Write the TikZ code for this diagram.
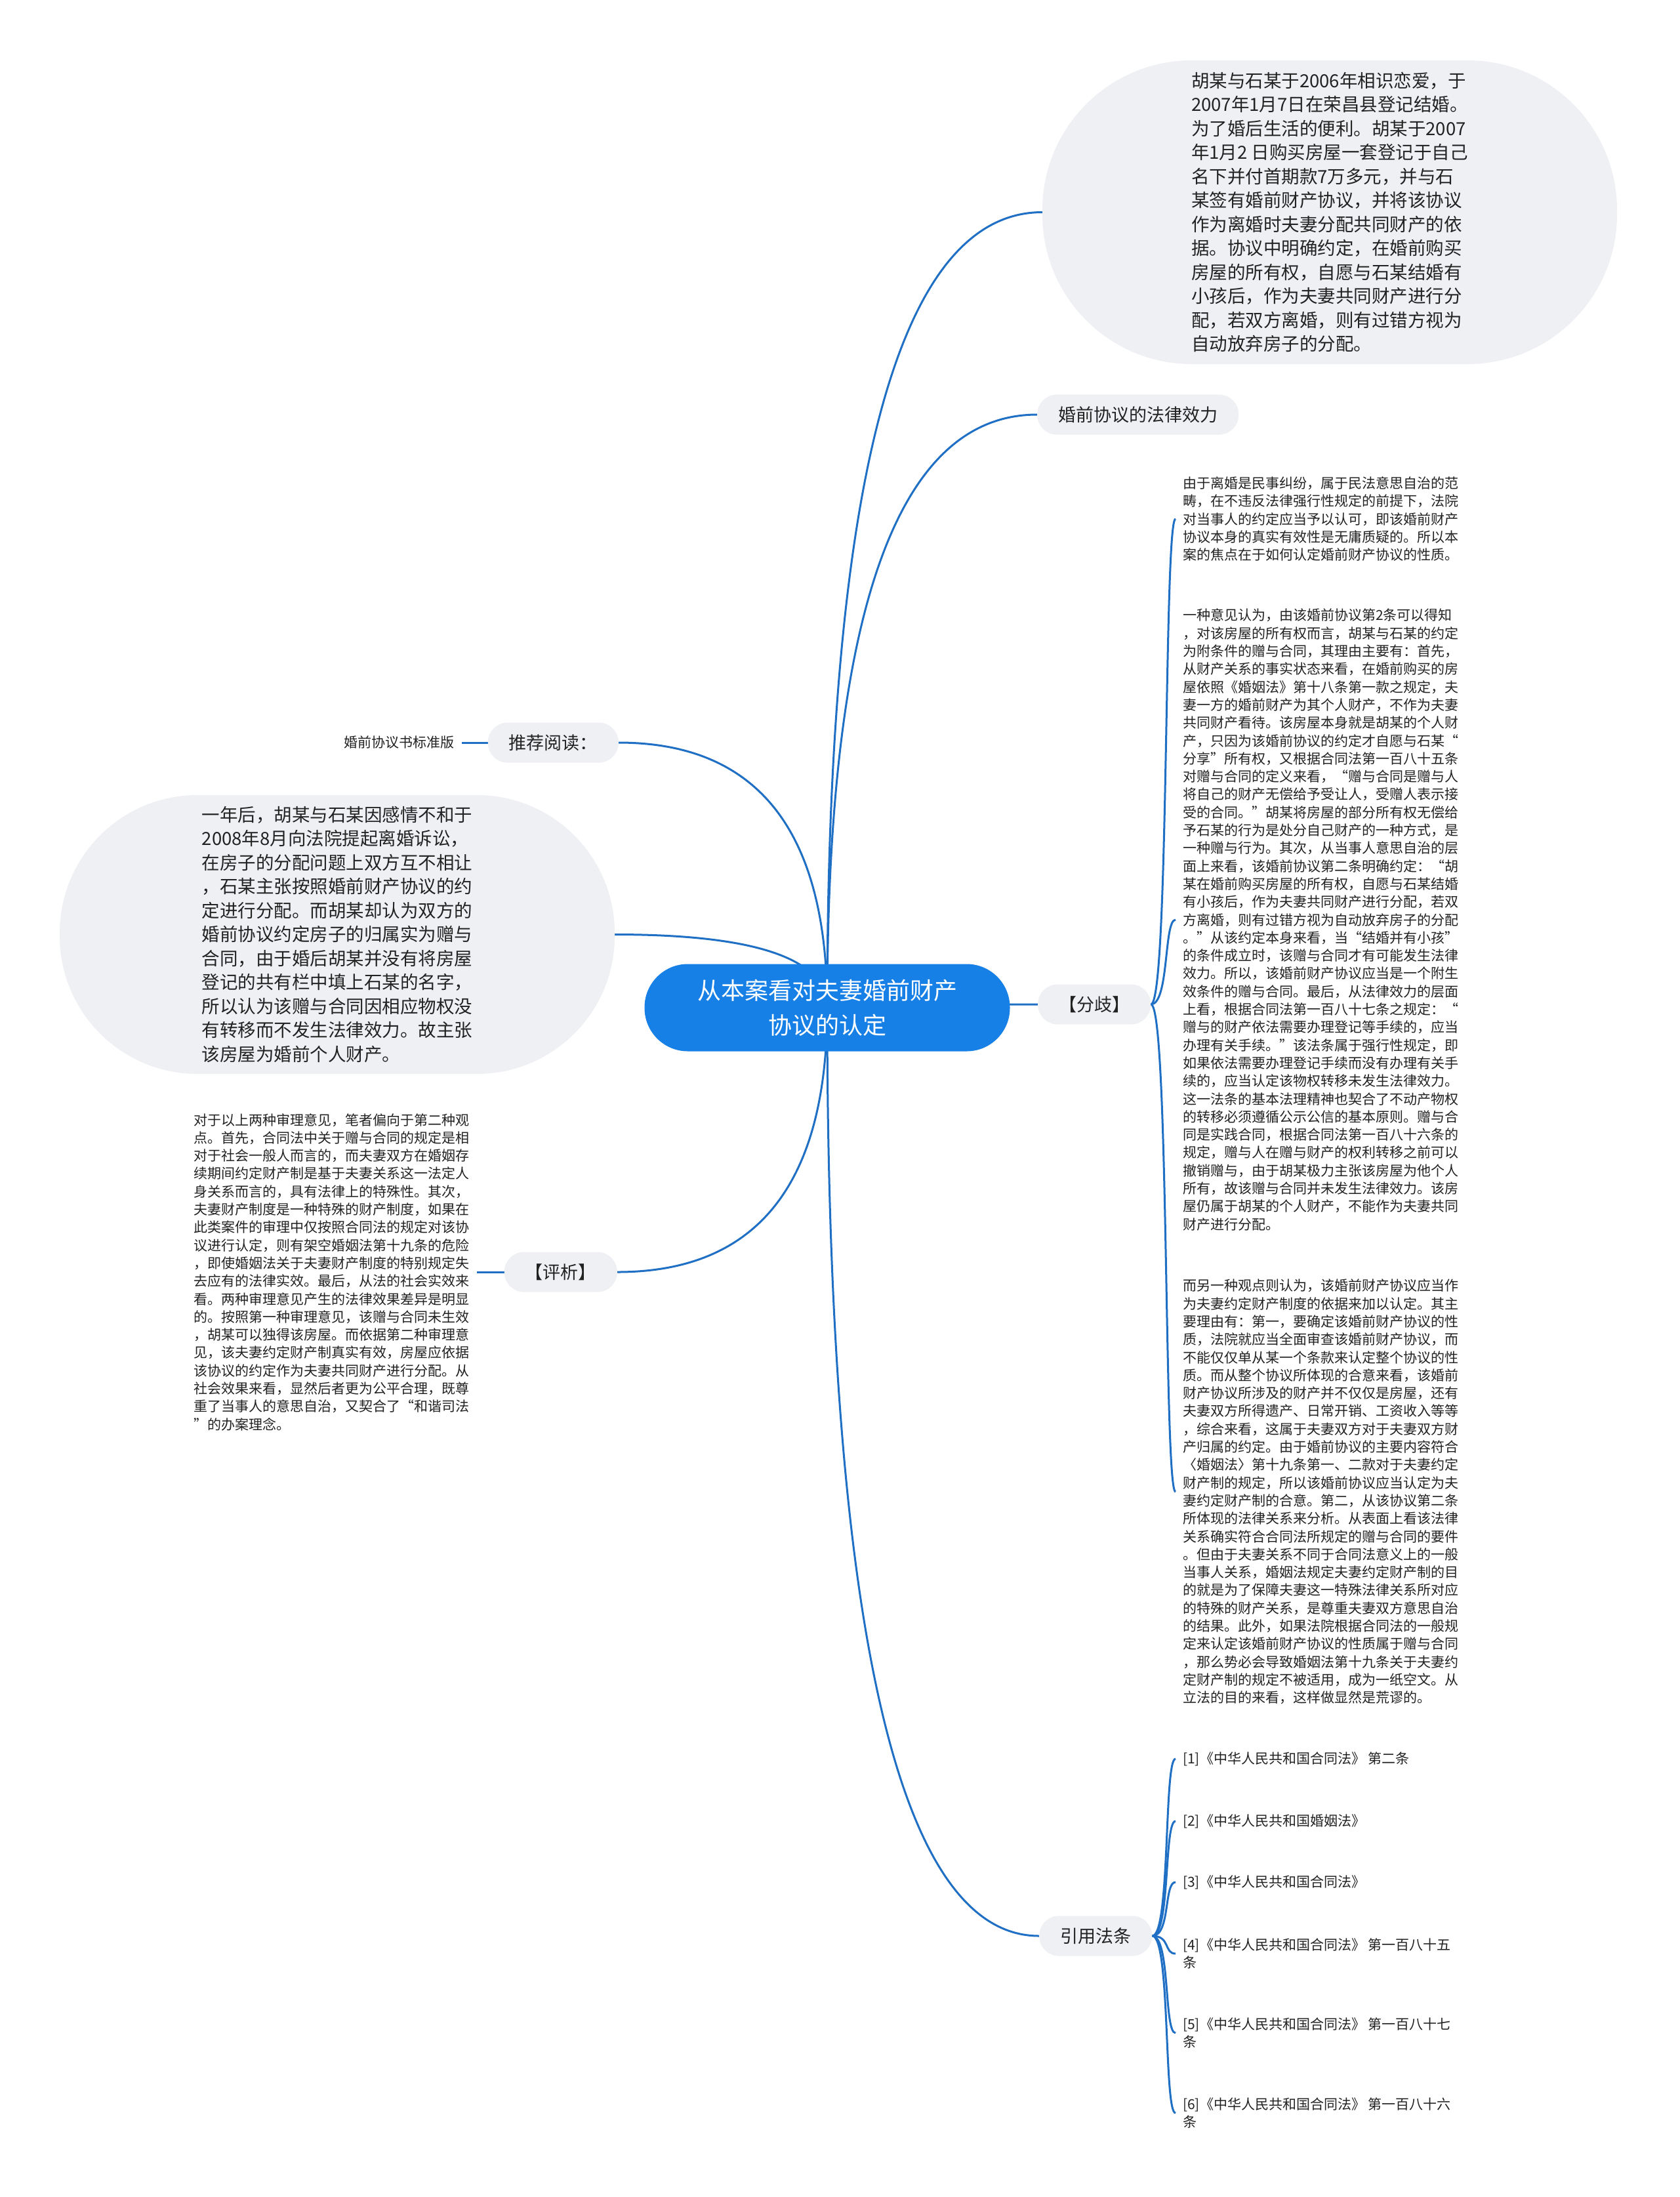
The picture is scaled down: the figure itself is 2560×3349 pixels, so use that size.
\documentclass[tikz,border=0pt]{standalone}
\usepackage{fontspec}
\setmainfont{Noto Sans CJK SC}
\usetikzlibrary{positioning, calc, backgrounds}

\definecolor{rootblue}{RGB}{23,128,231}
\definecolor{linkblue}{RGB}{31,111,196}
\definecolor{bubblegray}{RGB}{238,240,244}
\definecolor{textdark}{RGB}{34,34,34}

% curve from the centre of the root to a branch anchor
\newcommand{\rootlink}[1]{%
  \draw[link] (root.center) .. controls ($(root.center)!0.667!(root.center |- #1)$)
    and ($(#1)!0.667!(root.center |- #1)$) .. (#1);}

\begin{document}
\begin{tikzpicture}[
    x=1pt, y=-1pt,
    root/.style={
        fill=rootblue,
        text=white,
        rounded corners=66pt,
        minimum width=557pt,
        minimum height=133pt,
        align=center,
        font=\fontsize{36pt}{53pt}\selectfont
    },
    topic/.style={
        fill=bubblegray,
        text=textdark,
        rounded corners=30pt,
        minimum height=61pt,
        inner xsep=32pt,
        font=\fontsize{27pt}{32pt}\selectfont
    },
    story/.style={
        fill=bubblegray,
        text=textdark,
        align=left,
        font=\fontsize{27.5pt}{36.5pt}\selectfont
    },
    detail/.style={
        text=textdark,
        align=left,
        inner xsep=11pt,
        inner ysep=0pt,
        font=\fontsize{21pt}{27.3pt}\selectfont
    },
    link/.style={
        draw=linkblue,
        line width=3pt
    }
]
    \useasboundingbox (0,0) rectangle (2560,3349);

    % -- Root --
    \node[root] (root) at (1261,1536) {从本案看对夫妻婚前财产\\协议的认定};

    % -- Right side: facts and effect --
    \node[story, rounded corners=228pt, minimum width=876pt, minimum height=463pt] (facts) at (2027,323.5) {胡某与石某于2006年相识恋爱，于\\
2007年1月7日在荣昌县登记结婚。\\
为了婚后生活的便利。胡某于2007\\
年1月2 日购买房屋一套登记于自己\\
名下并付首期款7万多元，并与石\\
某签有婚前财产协议，并将该协议\\
作为离婚时夫妻分配共同财产的依\\
据。协议中明确约定，在婚前购买\\
房屋的所有权，自愿与石某结婚有\\
小孩后，作为夫妻共同财产进行分\\
配，若双方离婚，则有过错方视为\\
自动放弃房子的分配。};

    \node[topic, anchor=west] (effect) at (1581,632) {婚前协议的法律效力};

    % -- Left side: reading and divorce --
    \node[topic, anchor=east] (reading) at (943,1132) {推荐阅读：};
    \node[detail, left=40pt of reading] (template) {婚前协议书标准版};

    \node[story, rounded corners=210pt, minimum width=846pt, minimum height=425pt] (divorce) at (514,1424.5) {一年后，胡某与石某因感情不和于\\
2008年8月向法院提起离婚诉讼，\\
在房子的分配问题上双方互不相让\\
，石某主张按照婚前财产协议的约\\
定进行分配。而胡某却认为双方的\\
婚前协议约定房子的归属实为赠与\\
合同，由于婚后胡某并没有将房屋\\
登记的共有栏中填上石某的名字，\\
所以认为该赠与合同因相应物权没\\
有转移而不发生法律效力。故主张\\
该房屋为婚前个人财产。};

    % -- Comment --
    \node[topic, anchor=east] (comment) at (941,1939) {【评析】};
    \node[detail, left=42pt of comment] (commenttext) {对于以上两种审理意见，笔者偏向于第二种观\\
点。首先，合同法中关于赠与合同的规定是相\\
对于社会一般人而言的，而夫妻双方在婚姻存\\
续期间约定财产制是基于夫妻关系这一法定人\\
身关系而言的，具有法律上的特殊性。其次，\\
夫妻财产制度是一种特殊的财产制度，如果在\\
此类案件的审理中仅按照合同法的规定对该协\\
议进行认定，则有架空婚姻法第十九条的危险\\
，即使婚姻法关于夫妻财产制度的特别规定失\\
去应有的法律实效。最后，从法的社会实效来\\
看。两种审理意见产生的法律效果差异是明显\\
的。按照第一种审理意见，该赠与合同未生效\\
，胡某可以独得该房屋。而依据第二种审理意\\
见，该夫妻约定财产制真实有效，房屋应依据\\
该协议的约定作为夫妻共同财产进行分配。从\\
社会效果来看，显然后者更为公平合理，既尊\\
重了当事人的意思自治，又契合了“和谐司法\\
”的办案理念。};

    % -- Dispute --
    \node[topic, anchor=west] (dispute) at (1582,1531) {【分歧】};

    \node[detail, anchor=west] (view0) at (1792,791) {由于离婚是民事纠纷，属于民法意思自治的范\\
畴，在不违反法律强行性规定的前提下，法院\\
对当事人的约定应当予以认可，即该婚前财产\\
协议本身的真实有效性是无庸质疑的。所以本\\
案的焦点在于如何认定婚前财产协议的性质。};

    \node[detail, anchor=west] (view1) at (1792,1402) {一种意见认为，由该婚前协议第2条可以得知\\
，对该房屋的所有权而言，胡某与石某的约定\\
为附条件的赠与合同，其理由主要有：首先，\\
从财产关系的事实状态来看，在婚前购买的房\\
屋依照《婚姻法》第十八条第一款之规定，夫\\
妻一方的婚前财产为其个人财产，不作为夫妻\\
共同财产看待。该房屋本身就是胡某的个人财\\
产，只因为该婚前协议的约定才自愿与石某“\\
分享”所有权，又根据合同法第一百八十五条\\
对赠与合同的定义来看，“赠与合同是赠与人\\
将自己的财产无偿给予受让人，受赠人表示接\\
受的合同。”胡某将房屋的部分所有权无偿给\\
予石某的行为是处分自己财产的一种方式，是\\
一种赠与行为。其次，从当事人意思自治的层\\
面上来看，该婚前协议第二条明确约定：“胡\\
某在婚前购买房屋的所有权，自愿与石某结婚\\
有小孩后，作为夫妻共同财产进行分配，若双\\
方离婚，则有过错方视为自动放弃房子的分配\\
。”从该约定本身来看，当“结婚并有小孩”\\
的条件成立时，该赠与合同才有可能发生法律\\
效力。所以，该婚前财产协议应当是一个附生\\
效条件的赠与合同。最后，从法律效力的层面\\
上看，根据合同法第一百八十七条之规定：“\\
赠与的财产依法需要办理登记等手续的，应当\\
办理有关手续。”该法条属于强行性规定，即\\
如果依法需要办理登记手续而没有办理有关手\\
续的，应当认定该物权转移未发生法律效力。\\
这一法条的基本法理精神也契合了不动产物权\\
的转移必须遵循公示公信的基本原则。赠与合\\
同是实践合同，根据合同法第一百八十六条的\\
规定，赠与人在赠与财产的权利转移之前可以\\
撤销赠与，由于胡某极力主张该房屋为他个人\\
所有，故该赠与合同并未发生法律效力。该房\\
屋仍属于胡某的个人财产，不能作为夫妻共同\\
财产进行分配。};

    \node[detail, anchor=west] (view2) at (1792,2274) {而另一种观点则认为，该婚前财产协议应当作\\
为夫妻约定财产制度的依据来加以认定。其主\\
要理由有：第一，要确定该婚前财产协议的性\\
质，法院就应当全面审查该婚前财产协议，而\\
不能仅仅单从某一个条款来认定整个协议的性\\
质。而从整个协议所体现的合意来看，该婚前\\
财产协议所涉及的财产并不仅仅是房屋，还有\\
夫妻双方所得遗产、日常开销、工资收入等等\\
，综合来看，这属于夫妻双方对于夫妻双方财\\
产归属的约定。由于婚前协议的主要内容符合\\
〈婚姻法〉第十九条第一、二款对于夫妻约定\\
财产制的规定，所以该婚前协议应当认定为夫\\
妻约定财产制的合意。第二，从该协议第二条\\
所体现的法律关系来分析。从表面上看该法律\\
关系确实符合合同法所规定的赠与合同的要件\\
。但由于夫妻关系不同于合同法意义上的一般\\
当事人关系，婚姻法规定夫妻约定财产制的目\\
的就是为了保障夫妻这一特殊法律关系所对应\\
的特殊的财产关系，是尊重夫妻双方意思自治\\
的结果。此外，如果法院根据合同法的一般规\\
定来认定该婚前财产协议的性质属于赠与合同\\
，那么势必会导致婚姻法第十九条关于夫妻约\\
定财产制的规定不被适用，成为一纸空文。从\\
立法的目的来看，这样做显然是荒谬的。};

    % -- Cited laws --
    \node[topic, anchor=west] (laws) at (1584,2951) {引用法条};

    \node[detail, anchor=west] (law1) at (1792,2681) {[1]《中华人民共和国合同法》 第二条};
    \node[detail, anchor=west] (law2) at (1792,2776) {[2]《中华人民共和国婚姻法》};
    \node[detail, anchor=west] (law3) at (1792,2869) {[3]《中华人民共和国合同法》};
    \node[detail, anchor=west] (law4) at (1792,2978) {[4]《中华人民共和国合同法》 第一百八十五\\条};
    \node[detail, anchor=west] (law5) at (1792,3099) {[5]《中华人民共和国合同法》 第一百八十七\\条};
    \node[detail, anchor=west] (law6) at (1792,3221) {[6]《中华人民共和国合同法》 第一百八十六\\条};

    % -- Connectors --
    \begin{scope}[on background layer]
        \fill[white] (0,0) rectangle (2560,3349);

        \rootlink{facts.west}
        \rootlink{effect.west}
        \rootlink{dispute.west}
        \rootlink{laws.west}
        \rootlink{reading.east}
        \rootlink{divorce.east}
        \rootlink{comment.east}

        \draw[link] (reading.west) -- (template.east);
        \draw[link] (comment.west) -- (commenttext.east);

        \foreach \n in {0,1,2}
            \draw[link] (dispute.east) .. controls +(28,0) and +(-18,0) .. (view\n.west);
        \foreach \n in {1,...,6}
            \draw[link] (laws.east) .. controls +(28,0) and +(-18,0) .. (law\n.west);
    \end{scope}

\end{tikzpicture}
\end{document}
